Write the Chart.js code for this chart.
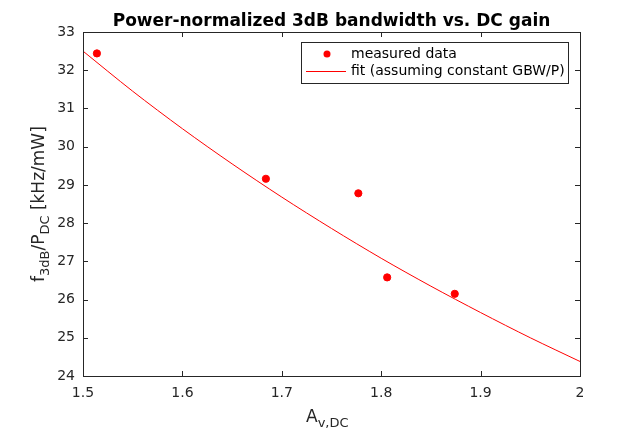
<!DOCTYPE html>
<html>
<head>
<meta charset="utf-8">
<script src="https://cdn.jsdelivr.net/npm/chart.js@4.4.0/dist/chart.umd.min.js"></script>
<style>
  html, body { margin: 0; padding: 0; background: #fff; }
  #wrap { width: 640px; height: 430px; }
</style>
</head>
<body>
<div id="wrap"><canvas id="c" width="640" height="430"></canvas></div>
<script>
// measured points (A_v,DC , f3dB/PDC in kHz/mW)
var gainMeas = [1.514, 1.684, 1.777, 1.806, 1.874]
var bwMeas   = [32.44, 29.16, 28.78, 26.58, 26.15]

// fit curve
var gainFit = [1.50, 1.55, 1.60, 1.65, 1.70, 1.75, 1.80, 1.85, 1.90, 1.95, 2.00]
var bwFit   = [32.50, 31.45, 30.47, 29.55, 28.68, 27.86, 27.08, 26.35, 25.66, 25.00, 24.38]

var xTicks = [1.5, 1.6, 1.7, 1.8, 1.9, 2]
var yTicks = [24, 25, 26, 27, 28, 29, 30, 31, 32, 33]

var titleText = 'Power-normalized 3dB bandwidth vs. DC gain'
var ink = '#262626'
var fnt = 'DejaVu Sans'

function pts(xs, ys) {
    var out = []
    for (var i = 0; i < xs.length; i++) out.push({x: xs[i], y: ys[i]})
    return out
}

// draws title, box, inward ticks, axis labels with subscripts and the legend
var matlabLook = {
    id: 'matlabLook',
    afterDraw: function (chart) {
        var ctx = chart.ctx, a = chart.chartArea
        var xs = chart.scales.x, ys = chart.scales.y
        ctx.save()

        // title centred over the axes
        ctx.fillStyle = '#000'
        ctx.font = 'bold 17px "' + fnt + '"'
        ctx.textAlign = 'center'
        ctx.textBaseline = 'alphabetic'
        ctx.fillText(titleText, (a.left + a.right) / 2, 26)

        ctx.strokeStyle = ink
        ctx.lineWidth = 1
        ctx.strokeRect(Math.round(a.left) + 0.5, Math.round(a.top) + 0.5,
                       Math.round(a.right - a.left), Math.round(a.bottom - a.top))
        ctx.beginPath()
        xTicks.forEach(function (v) {
            var px = Math.round(xs.getPixelForValue(v)) + 0.5
            ctx.moveTo(px, a.bottom); ctx.lineTo(px, a.bottom - 5)
            ctx.moveTo(px, a.top); ctx.lineTo(px, a.top + 5)
        })
        yTicks.forEach(function (v) {
            var py = Math.round(ys.getPixelForValue(v)) + 0.5
            ctx.moveTo(a.left, py); ctx.lineTo(a.left + 5, py)
            ctx.moveTo(a.right, py); ctx.lineTo(a.right - 5, py)
        })
        ctx.stroke()

        // x label  A_v,DC
        ctx.fillStyle = ink
        ctx.textBaseline = 'alphabetic'
        ctx.textAlign = 'left'
        ctx.font = '17px "' + fnt + '"'
        var xl = 306
        ctx.fillText('A', xl, 422)
        var w = ctx.measureText('A').width
        ctx.font = '13px "' + fnt + '"'
        ctx.fillText('v,DC', xl + w, 427)

        // y label  f_3dB/P_DC [kHz/mW]
        ctx.save()
        ctx.translate(44, 282)
        ctx.rotate(-Math.PI / 2)
        var parts = [['f', 17, 0], ['3dB', 13, 5], ['/P', 17, 0], ['DC', 13, 5], [' [kHz/mW]', 17, 0]]
        var cx = 0
        parts.forEach(function (p) {
            ctx.font = p[1] + 'px "' + fnt + '"'
            ctx.fillText(p[0], cx, p[2])
            cx += ctx.measureText(p[0]).width
        })
        ctx.restore()

        // legend
        ctx.fillStyle = '#fff'
        ctx.fillRect(301, 42, 267, 41)
        ctx.strokeStyle = ink
        ctx.strokeRect(301.5, 42.5, 267, 41)
        ctx.fillStyle = 'red'
        ctx.beginPath()
        ctx.arc(327, 54, 3.5, 0, Math.PI * 2)
        ctx.fill()
        ctx.strokeStyle = 'red'
        ctx.beginPath()
        ctx.moveTo(306, 71.5); ctx.lineTo(346, 71.5)
        ctx.stroke()
        ctx.fillStyle = '#000'
        ctx.font = '14px "' + fnt + '"'
        ctx.textBaseline = 'middle'
        ctx.fillText('measured data', 351, 54)
        ctx.fillText('fit (assuming constant GBW/P)', 351, 71)
        ctx.restore()
    }
}

var ctx = document.getElementById('c').getContext('2d')
var chart = new Chart(ctx, {
    type: 'scatter',
    data: {
        datasets: [{
            label: 'measured data',
            data: pts(gainMeas, bwMeas),
            backgroundColor: 'red',
            borderColor: 'red',
            pointRadius: 3.6,
            showLine: false
        }, {
            label: 'fit (assuming constant GBW/P)',
            data: pts(gainFit, bwFit),
            borderColor: 'red',
            borderWidth: 1,
            pointRadius: 0,
            showLine: true,
            tension: 0.3,
            fill: false
        }]
    },
    options: {
        responsive: false,
        animation: false,
        events: [],
        layout: { padding: { left: 0, right: 60, top: 32, bottom: 0 } },
        plugins: {
            legend: { display: false },
            tooltip: { enabled: false },
            title: { display: false }
        },
        scales: {
            x: {
                type: 'linear', min: 1.5, max: 2,
                afterFit: function (s) { s.height = 54 },
                afterBuildTicks: function (s) { s.ticks = xTicks.map(function (v) { return {value: v} }) },
                grid: { display: false, drawTicks: false },
                border: { display: false },
                ticks: { color: ink, font: { family: fnt, size: 14 }, padding: 9,
                         callback: function (v) { return String(v) } }
            },
            y: {
                type: 'linear', min: 24, max: 33,
                afterFit: function (s) { s.width = 83 },
                afterBuildTicks: function (s) { s.ticks = yTicks.map(function (v) { return {value: v} }) },
                grid: { display: false, drawTicks: false },
                border: { display: false },
                ticks: { color: ink, font: { family: fnt, size: 14 }, padding: 8 }
            }
        }
    },
    plugins: [matlabLook]
})
</script>
</body>
</html>
